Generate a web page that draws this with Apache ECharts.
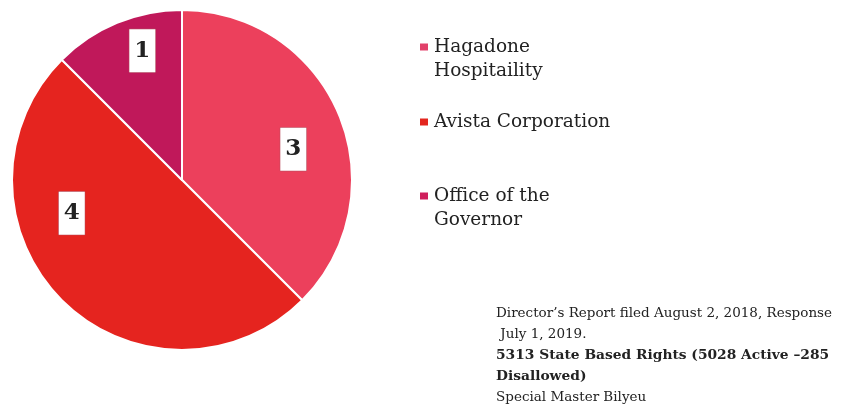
<!DOCTYPE html>
<html>
<head>
<meta charset="utf-8">
<script src="https://cdn.jsdelivr.net/npm/echarts@6/dist/echarts.min.js"></script>
<style>
  html, body { margin: 0; padding: 0; background: #fff; }
  #chart_pie { width: 842px; height: 411px; }
</style>
</head>
<body>
<div id="chart_pie"></div>
<script>
// data
var rights_names = ['Hagadone\nHospitaility', 'Avista Corporation', 'Office of the\nGovernor'];
var rights_count = [3, 4, 1];
var note_lines = [
  'Director\u2019s Report filed August 2, 2018, Response',
  ' July 1, 2019.',
  '5313 State Based Rights (5028 Active \u2013285',
  'Disallowed)',
  'Special Master Bilyeu'
];
var note_bold = [false, false, true, true, false];

// styles
var slice_colors = ['#ec405c', '#e5241f', '#c0185a'];
var marker_colors = ['#e2406a', '#e3261f', '#cf1f5c'];
var label_offsets = [[30, 3], [-48, -29], [-6, -48]];
var legend_tops = [11, 110, 160];
var serif = 'DejaVu Serif';

function creatChart_pie(){
	var myChart = echarts.init(document.getElementById('chart_pie'));

	var datalist = [];
	for (var i = 0; i < rights_names.length; i++) {
		datalist.push({
			name: rights_names[i],
			value: rights_count[i],
			itemStyle: { color: slice_colors[i] }
		});
	}

	// one legend per entry, marker level with the first text line
	var legends = [];
	for (var j = 0; j < rights_names.length; j++) {
		legends.push({
			orient: 'vertical',
			left: 418,
			top: legend_tops[j],
			padding: 0,
			itemWidth: 10,
			itemHeight: 9,
			icon: 'rect',
			selectedMode: false,
			data: [{
				name: rights_names[j],
				itemStyle: { color: marker_colors[j] }
			}],
			formatter: function(name){
				// empty line on top pushes the text down so the marker sits by line one
				return name.indexOf('\n') >= 0 ? ' \n' + name : name;
			},
			textStyle: {
				fontFamily: serif,
				fontSize: 18.5,
				lineHeight: 24,
				color: '#222'
			}
		});
	}

	var noteText = [];
	for (var k = 0; k < note_lines.length; k++) {
		noteText.push('{' + (note_bold[k] ? 'b' : 'a') + '|' + note_lines[k] + '}');
	}

	option = {
	    animation: false,
	    title: {
	        text: noteText.join('\n'),
	        left: 496,
	        top: 303,
	        padding: 0,
	        textStyle: {
	            fontWeight: 'normal',
	            rich: {
	                a: { fontFamily: serif, fontSize: 13.5, lineHeight: 21, fontWeight: 'normal', color: '#222' },
	                b: { fontFamily: serif, fontSize: 13.8, lineHeight: 21, fontWeight: 'bold', color: '#222' }
	            }
	        }
	    },
	    legend: legends,
	    series: [
	        {
	            name: 'rights',
	            type: 'pie',
	            center: [182, 180],
	            radius: [0, 170],
	            startAngle: 90,
	            clockwise: true,
	            silent: true,
	            itemStyle: {
	                borderColor: '#fff',
	                borderWidth: 2
	            },
	            label: {
	                show: true,
	                position: 'inside',
	                formatter: '{c}',
	                fontFamily: serif,
	                fontWeight: 'bold',
	                fontSize: 23,
	                color: '#222',
	                backgroundColor: '#fff',
	                borderColor: '#b05060',
	                borderWidth: 0.5,
	                padding: [11, 5, 9, 5]
	            },
	            labelLayout: function(p){
	                var off = label_offsets[p.dataIndex];
	                return { dx: off[0], dy: off[1] };
	            },
	            data: datalist
	        }
	    ]
	};
	myChart.setOption(option);
}
creatChart_pie();
</script>
</body>
</html>
